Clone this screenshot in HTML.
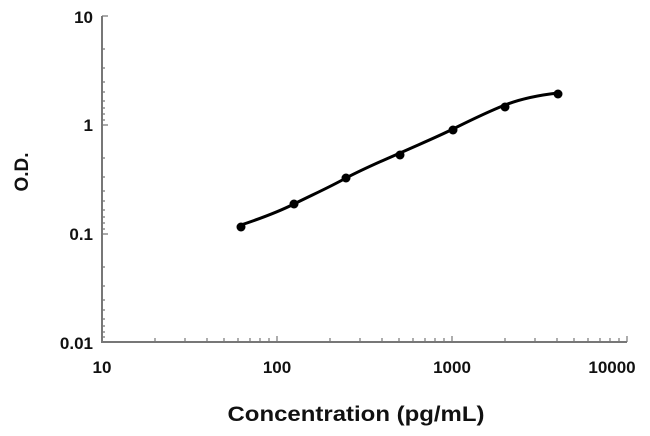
<!DOCTYPE html>
<html><head><meta charset="utf-8"><style>
html,body{margin:0;padding:0;background:#fff;}
svg{display:block;}
text{font-family:"Liberation Sans",Arial,sans-serif;font-weight:bold;fill:#111;}
</style></head><body>
<svg width="650" height="436" viewBox="0 0 650 436" xmlns="http://www.w3.org/2000/svg">
<g stroke="#777" stroke-width="2" fill="none">
<path d="M102,16 L102,342 L627,342"/>
</g>
<g font-size="17" text-anchor="end">
<text x="93" y="23">10</text>
<text x="93" y="131">1</text>
<text x="93" y="240">0.1</text>
<text x="93" y="349">0.01</text>
</g>
<g font-size="17" text-anchor="middle">
<text x="102" y="373">10</text>
<text x="277" y="373">100</text>
<text x="452" y="373">1000</text>
<text x="612" y="373">10000</text>
</g>
<text x="356" y="421" font-size="21" text-anchor="middle" textLength="257" lengthAdjust="spacingAndGlyphs">Concentration (pg/mL)</text>
<text transform="translate(28,172) rotate(-90)" font-size="19" text-anchor="middle">O.D.</text>
<path d="M241,225 C262,218 280,211 294,204 C312,195 330,187 346,178 C365,168 384,160 400,153 C420,144 437,137 453,129 C471,120 490,111 505,105 C523,98 540,95 558,93" stroke="#000" stroke-width="3" fill="none"/>
<g fill="#000">
<circle cx="241" cy="227" r="4.5"/>
<circle cx="294" cy="204" r="4.5"/>
<circle cx="346" cy="178" r="4.5"/>
<circle cx="400" cy="155" r="4.5"/>
<circle cx="453" cy="130" r="4.5"/>
<circle cx="505" cy="107" r="4.5"/>
<circle cx="558" cy="94" r="4.5"/>
</g>
<g stroke="#777" stroke-width="1.2">
<path d="M102,16h6M102,125h6M102,234h6
M102,49h3M102,68h3M102,82h3M102,92h3M102,101h3M102,108h3M102,114h3M102,120h3
M102,158h3M102,177h3M102,191h3M102,201h3M102,210h3M102,217h3M102,223h3M102,229h3
M102,267h3M102,286h3M102,300h3M102,310h3M102,319h3M102,326h3M102,332h3M102,337h3"/>
<path d="M277,342v-6M452,342v-6M627,342v-6
M155,342v-4M185,342v-4M207,342v-4M224,342v-4M238,342v-4M250,342v-4M260,342v-4M269,342v-4
M330,342v-4M360,342v-4M382,342v-4M399,342v-4M413,342v-4M425,342v-4M435,342v-4M444,342v-4
M505,342v-4M535,342v-4M557,342v-4M574,342v-4M588,342v-4M600,342v-4M610,342v-4M619,342v-4"/>
</g>
</svg>
</body></html>
